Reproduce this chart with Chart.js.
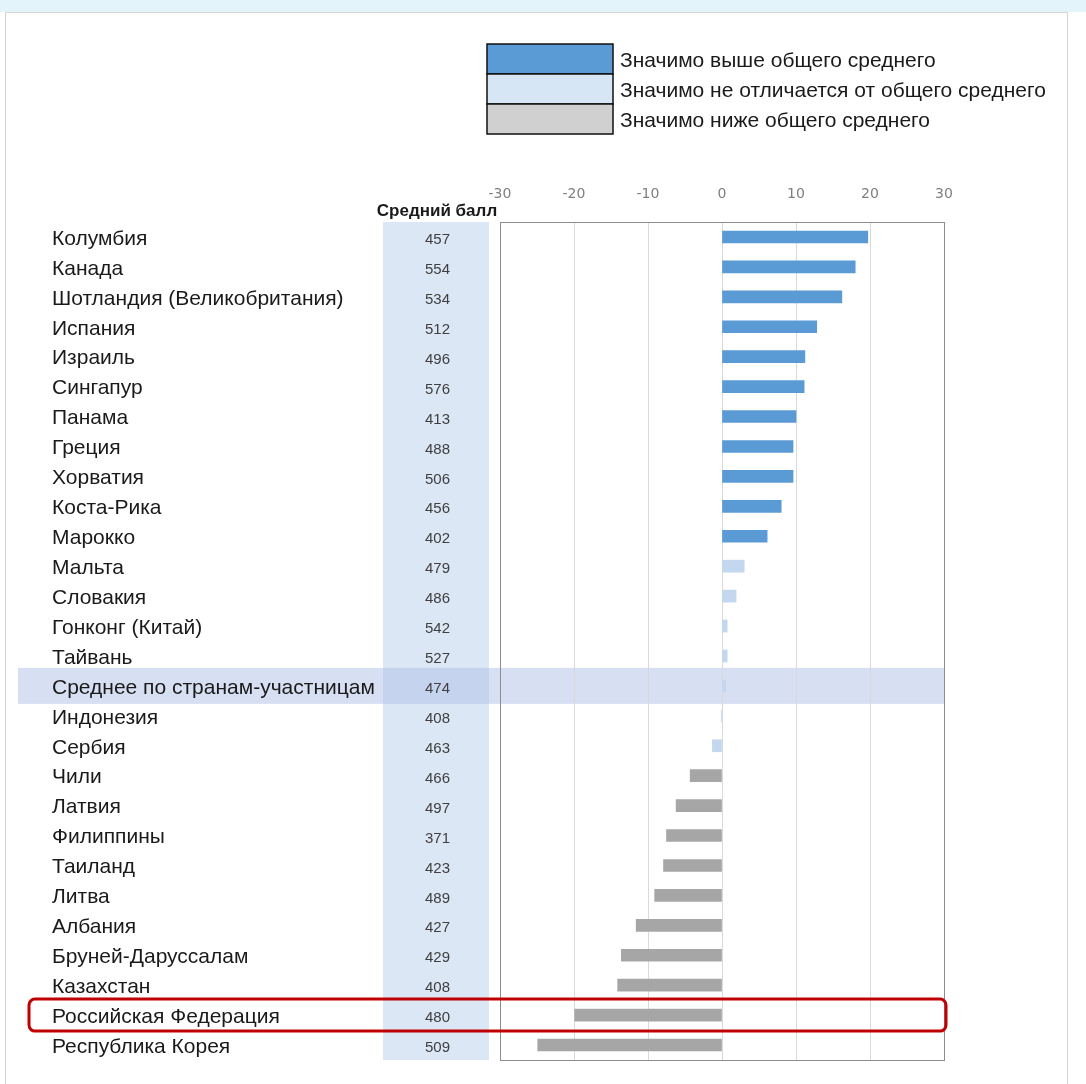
<!DOCTYPE html>
<html>
<head>
<meta charset="utf-8">
<script src="https://cdn.jsdelivr.net/npm/chart.js@4.4.0/dist/chart.umd.min.js"></script>
<style>
html, body { margin: 0; padding: 0; background: #fff; }
#wrap { position: relative; width: 1086px; height: 1084px; overflow: hidden; }
#strip { position: absolute; left: 0; top: 0; width: 1086px; height: 12px; background: #e3f4fb; }
#panel { position: absolute; left: 5px; top: 12px; width: 1061px; height: 1090px; border: 1px solid #d4d4d4; background: #fff; }
canvas { position: absolute; left: 0; top: 0; }
</style>
</head>
<body>
<div id="wrap">
  <div id="strip"></div>
  <div id="panel"></div>
  <canvas id="chart" width="1086" height="1084" style="width:1086px;height:1084px"></canvas>
</div>
<script>
// rows, top to bottom
const countries = [
  "Колумбия", "Канада", "Шотландия (Великобритания)", "Испания", "Израиль",
  "Сингапур", "Панама", "Греция", "Хорватия", "Коста-Рика", "Марокко",
  "Мальта", "Словакия", "Гонконг (Китай)", "Тайвань", "Среднее по странам-участницам",
  "Индонезия", "Сербия", "Чили", "Латвия", "Филиппины", "Таиланд", "Литва",
  "Албания", "Бруней-Даруссалам", "Казахстан", "Российская Федерация", "Республика Корея"
];
const scores = [457, 554, 534, 512, 496, 576, 413, 488, 506, 456, 402,
  479, 486, 542, 527, 474, 408, 463, 466, 497, 371, 423, 489, 427, 429, 408, 480, 509];
// difference from overall average
const diffs = [19.7, 18.0, 16.2, 12.8, 11.2, 11.1, 10.0, 9.6, 9.6, 8.0, 6.1,
  3.0, 1.9, 0.7, 0.7, 0.5, -0.1, -1.3, -4.3, -6.2, -7.5, -7.9, -9.1,
  -11.6, -13.6, -14.1, -19.9, -24.9];
// 0 = above, 1 = not different, 2 = below
const groups = [0, 0, 0, 0, 0, 0, 0, 0, 0, 0, 0,
  1, 1, 1, 1, 1, 1, 1, 2, 2, 2, 2, 2, 2, 2, 2, 2, 2];
const groupNames = [
  "Значимо выше общего среднего",
  "Значимо не отличается от общего среднего",
  "Значимо ниже общего среднего"
];
const xTicks = [-30, -20, -10, 0, 10, 20, 30];
const scoreHeader = "Средний балл";
const avgRow = 15;
const markedRow = 26;

const barColors = ["#5b9bd5", "#c3d7ee", "#a6a6a6"];
const legendColors = ["#5b9bd5", "#d7e6f5", "#d0d0d0"];

const noPad = s => { s.paddingTop = 0; s.paddingBottom = 0; };

const extras = {
  id: "extras",
  beforeDraw(chart) {
    const ctx = chart.ctx;
    const area = chart.chartArea;
    const y = chart.scales.y;
    const sc = chart.scales.yScore;
    ctx.save();
    // score column band
    ctx.fillStyle = "#dbe7f4";
    ctx.fillRect(sc.left, area.top, 106, area.bottom - area.top);
    // average row band
    const ay = y.getPixelForValue(avgRow);
    ctx.fillStyle = "rgba(176,192,232,0.5)";
    ctx.fillRect(18, ay - 18, area.right - 18, 36);
    // header
    ctx.fillStyle = "#1a1a1a";
    ctx.font = "bold 17px 'Liberation Sans', Arial, sans-serif";
    ctx.textAlign = "center";
    ctx.textBaseline = "middle";
    ctx.fillText(scoreHeader, sc.left + 54, 211);
    // legend
    ctx.font = "21px 'Liberation Sans', Arial, sans-serif";
    ctx.textAlign = "left";
    groupNames.forEach((name, i) => {
      const top = 44 + i * 30;
      ctx.fillStyle = legendColors[i];
      ctx.fillRect(487, top, 126, 30);
      ctx.strokeStyle = "#111";
      ctx.lineWidth = 1.5;
      ctx.strokeRect(487, top, 126, 30);
      ctx.fillStyle = "#1a1a1a";
      ctx.fillText(name, 620, top + 17);
    });
    ctx.restore();
  },
  afterDraw(chart) {
    const ctx = chart.ctx;
    const area = chart.chartArea;
    const y = chart.scales.y;
    ctx.save();
    ctx.strokeStyle = "#8c8c8c";
    ctx.lineWidth = 1;
    ctx.strokeRect(area.left + 0.5, area.top + 0.5, area.right - area.left, area.bottom - area.top);
    const ry = y.getPixelForValue(markedRow);
    ctx.strokeStyle = "#c00000";
    ctx.lineWidth = 3;
    ctx.beginPath();
    ctx.roundRect(29, ry - 16, area.right + 2 - 29, 32, 6);
    ctx.stroke();
    ctx.restore();
  }
};

new Chart(document.getElementById("chart"), {
  type: "bar",
  data: {
    labels: countries,
    datasets: [{
      data: diffs,
      backgroundColor: groups.map(g => barColors[g]),
      barThickness: 12,
      yAxisID: "y",
      xAxisID: "x"
    }]
  },
  options: {
    indexAxis: "y",
    responsive: false,
    animation: false,
    layout: { padding: { left: 52, top: 182, right: 142, bottom: 24 } },
    plugins: { legend: { display: false }, tooltip: { enabled: false } },
    scales: {
      x: {
        position: "top",
        min: -30,
        max: 30,
        afterBuildTicks: s => { s.ticks = xTicks.map(v => ({ value: v })); },
        afterFit: s => { s.height = 40; },
        grid: { color: "#d9d9d9", drawTicks: false },
        border: { display: false },
        ticks: { color: "#7f7f7f", padding: 19, font: { size: 14, family: "'DejaVu Sans', sans-serif" } }
      },
      y: {
        position: "left",
        weight: 2,
        afterFit: s => { s.width = 331; noPad(s); },
        grid: { display: false, drawTicks: false },
        border: { display: false },
        ticks: { crossAlign: "far", labelOffset: 2, color: "#1a1a1a", padding: 0, font: { size: 21, family: "'Liberation Sans', Arial, sans-serif" } }
      },
      yScore: {
        type: "category",
        position: "left",
        weight: 1,
        offset: true,
        labels: scores.map(String),
        afterFit: s => { s.width = 117; noPad(s); },
        grid: { display: false, drawTicks: false },
        border: { display: false },
        ticks: { crossAlign: "center", labelOffset: 3, color: "#404040", padding: 50, font: { size: 15, family: "'Liberation Sans', Arial, sans-serif" } }
      }
    }
  },
  plugins: [extras]
});
</script>
</body>
</html>
